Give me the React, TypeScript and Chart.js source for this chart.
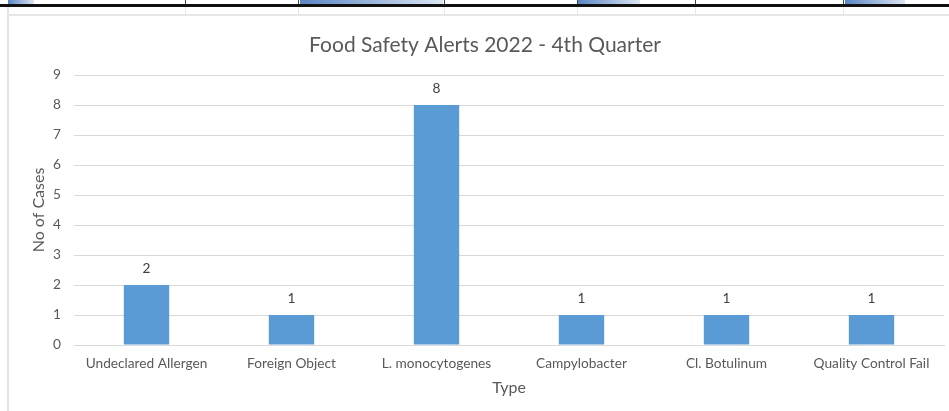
import React, { useEffect, useRef } from "react";
import { Chart, registerables } from "chart.js";

Chart.register(...registerables);

const categories = [
  "Undeclared Allergen",
  "Foreign Object",
  "L. monocytogenes",
  "Campylobacter",
  "Cl. Botulinum",
  "Quality Control Fail",
];
const cases = [2, 1, 8, 1, 1, 1];
const chartTitle = "Food Safety Alerts 2022 - 4th Quarter";
const xTitle = "Type";
const yTitle = "No of Cases";
const yMin = 0;
const yMax = 9;
const yStep = 1;

const FONT = "Lato, 'Open Sans', sans-serif";
const TEXT = "#595959";
const GRID = "#D9D9D9";
const BAR = "#5B9BD5";

const valueLabels = {
  id: "valueLabels",
  afterDatasetsDraw(chart: any) {
    const { ctx } = chart;
    ctx.save();
    ctx.font = `13.7px ${FONT}`;
    ctx.fillStyle = "#404040";
    ctx.textAlign = "center";
    ctx.textBaseline = "middle";
    chart.data.datasets.forEach((ds: any, i: number) => {
      const meta = chart.getDatasetMeta(i);
      meta.data.forEach((el: any, j: number) => {
        ctx.fillText(String(ds.data[j]), el.x, el.y - 16);
      });
    });
    ctx.restore();
  },
};

const stripCells = [185, 298, 444, 577, 695, 843];
const stripBlue: [number, number][] = [
  [8, 34],
  [300, 443],
  [578, 640],
  [845, 905],
];

export default function App() {
  const ref = useRef<HTMLCanvasElement | null>(null);

  useEffect(() => {
    if (!ref.current) return;
    const chart = new Chart(ref.current, {
      type: "bar",
      data: {
        labels: categories,
        datasets: [
          {
            data: cases,
            backgroundColor: BAR,
            borderWidth: 0,
            categoryPercentage: 1,
            barPercentage: 0.313,
          },
        ],
      },
      options: {
        responsive: false,
        animation: false,
        layout: { padding: { left: 26, top: 14, right: 5, bottom: 0 } },
        plugins: {
          legend: { display: false },
          tooltip: { enabled: false },
          title: {
            display: true,
            text: chartTitle,
            color: TEXT,
            font: { family: FONT, size: 21, weight: "normal", lineHeight: 1.2 },
            padding: { top: 18.4, bottom: 17.4 },
          },
        },
        scales: {
          x: {
            grid: { display: false, drawTicks: false },
            border: { display: true, color: GRID, width: 1 },
            ticks: {
              color: TEXT,
              font: { family: FONT, size: 13.7 },
              padding: 10,
              maxRotation: 0,
              autoSkip: false,
            },
            title: {
              display: true,
              text: xTitle,
              color: TEXT,
              font: { family: FONT, size: 16, lineHeight: 1.2 },
              padding: { top: 0, bottom: 13.4 },
            },
            afterFit: (s: any) => {
              s.height = 66;
            },
          },
          y: {
            min: yMin,
            max: yMax,
            grid: { color: GRID, lineWidth: 1, drawTicks: false },
            border: { display: false },
            ticks: {
              stepSize: yStep,
              color: TEXT,
              font: { family: FONT, size: 13.7 },
              padding: 13,
            },
            title: {
              display: true,
              text: yTitle,
              color: TEXT,
              font: { family: FONT, size: 16, lineHeight: 1.2 },
              padding: { top: 3.4, bottom: 0 },
            },
            afterFit: (s: any) => {
              s.width = 48;
            },
          },
        },
      },
      plugins: [valueLabels],
    });
    return () => chart.destroy();
  }, []);

  return (
    <div
      style={{
        position: "absolute",
        left: 0,
        top: 0,
        width: 949,
        height: 411,
        background: "#fff",
        overflow: "hidden",
      }}
    >
      {stripBlue.map(([a, b], i) => (
        <div
          key={"b" + i}
          style={{
            position: "absolute",
            left: a,
            top: 0,
            width: b - a,
            height: 4,
            background: "linear-gradient(to right, #5A86C4, #DCE6F3)",
          }}
        />
      ))}
      {stripCells.map((x, i) => (
        <React.Fragment key={"c" + i}>
          <div
            style={{
              position: "absolute",
              left: x,
              top: 0,
              width: 1,
              height: 5,
              background: "#444",
            }}
          />
          <div
            style={{
              position: "absolute",
              left: x,
              top: 7,
              width: 1,
              height: 7,
              background: "#E6E6E6",
            }}
          />
        </React.Fragment>
      ))}
      <div
        style={{
          position: "absolute",
          left: 0,
          top: 4,
          width: 949,
          height: 3,
          background: "#111",
        }}
      />
      <div
        style={{
          position: "absolute",
          left: 7,
          top: 7,
          width: 942,
          height: 404,
          borderLeft: "2px solid #E3E3E3",
          boxSizing: "border-box",
        }}
      />
      <div
        style={{
          position: "absolute",
          left: 7,
          top: 14,
          width: 942,
          height: 2,
          background: "#E6E6E6",
        }}
      />
      <canvas
        ref={ref}
        width={949}
        height={411}
        style={{ position: "absolute", left: 0, top: 0, width: 949, height: 411 }}
      />
    </div>
  );
}
